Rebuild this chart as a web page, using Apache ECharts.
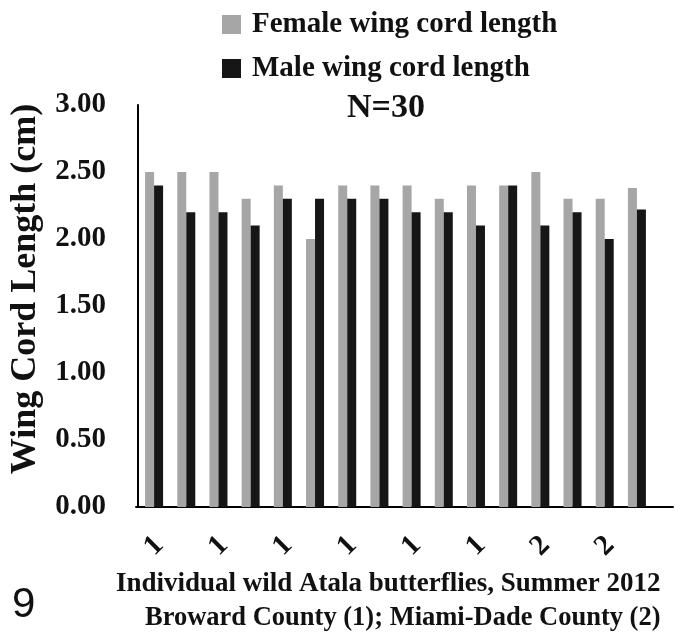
<!DOCTYPE html>
<html>
<head>
<meta charset="utf-8">
<script src="https://cdn.jsdelivr.net/npm/echarts@6/dist/echarts.min.js"></script>
<style>
html,body{margin:0;padding:0;background:#fff;}
#c{width:675px;height:636px;}
</style>
</head>
<body>
<div id="c"></div>
<script>
// categories: county code of each individual (1 = Broward, 2 = Miami-Dade)
var categories = ['1','1','1','1','1','1','1','1','1','1','1','1','2','2','2','2'];
var femaleValues = [2.50,2.50,2.50,2.30,2.40,2.00,2.40,2.40,2.40,2.30,2.40,2.40,2.50,2.30,2.30,2.38];
var maleValues   = [2.40,2.20,2.20,2.10,2.30,2.30,2.30,2.30,2.20,2.20,2.10,2.40,2.10,2.20,2.00,2.22];
var yTicks = { min: 0, max: 3, interval: 0.5 };
var seriesNames = ['Female wing cord length', 'Male wing cord length'];

var serif = "'Liberation Serif', 'Times New Roman', serif";
var chart = echarts.init(document.getElementById('c'), null, {renderer: 'canvas'});
chart.setOption({
  animation: false,
  backgroundColor: '#fff',
  title: [
    { text: 'N=30', left: 342, top: 86,
      textStyle: { fontFamily: serif, fontWeight: 'bold', fontSize: 34, color: '#111' } },
    { text: 'Individual wild Atala butterflies, Summer 2012', left: 111, top: 566,
      textStyle: { fontFamily: serif, fontWeight: 'bold', fontSize: 27, color: '#111' } },
    { text: 'Broward County (1); Miami-Dade County (2)', left: 140, top: 600,
      textStyle: { fontFamily: serif, fontWeight: 'bold', fontSize: 26.5, color: '#111' } },
    { text: '9', left: 7, top: 579,
      textStyle: { fontFamily: "'Liberation Sans', Arial, sans-serif", fontWeight: 'normal', fontSize: 42, color: '#111' } }
  ],
  legend: {
    orient: 'vertical', left: 217, top: 5, itemGap: 15,
    itemWidth: 19, itemHeight: 19, icon: 'rect',
    data: seriesNames,
    textStyle: { fontFamily: serif, fontWeight: 'bold', fontSize: 29, color: '#111', padding: [0,0,0,6] }
  },
  grid: [
    { left: 136, right: 22, top: 105, bottom: 129 },
    { left: 136, right: 2, top: 105, bottom: 129 }
  ],
  xAxis: [
    { type: 'category', data: categories, gridIndex: 0,
      axisLine: { show: true, lineStyle: { color: '#000', width: 2 } },
      axisTick: { show: false },
      axisLabel: { interval: 1, rotate: 45, align: 'center', verticalAlign: 'middle', margin: 39,
        fontFamily: serif, fontWeight: 'bold', fontSize: 29, color: '#111' } },
    { type: 'value', gridIndex: 1, min: 0, max: 1,
      axisLine: { show: true, lineStyle: { color: '#000', width: 2 } },
      axisTick: { show: false }, axisLabel: { show: false }, splitLine: { show: false } }
  ],
  yAxis: [
    { type: 'value', gridIndex: 0, min: yTicks.min, max: yTicks.max, interval: yTicks.interval,
      name: 'Wing Cord Length (cm)', nameLocation: 'middle', nameGap: 94, nameRotate: 90,
      nameTextStyle: { fontFamily: serif, fontWeight: 'bold', fontSize: 36, color: '#111', padding: [0,0,0,34] },
      axisLine: { show: true, lineStyle: { color: '#000', width: 2 } },
      axisTick: { show: false },
      splitLine: { show: false },
      axisLabel: { margin: 32, fontFamily: serif, fontWeight: 'bold', fontSize: 29, color: '#111',
        formatter: function (v) { return v.toFixed(2); } } },
    { type: 'value', gridIndex: 1, min: 0, max: 1, show: false }
  ],
  series: [
    { name: seriesNames[0], type: 'bar', data: femaleValues, xAxisIndex: 0, yAxisIndex: 0,
      barWidth: 9, barGap: '0%', itemStyle: { color: '#a6a6a6' } },
    { name: seriesNames[1], type: 'bar', data: maleValues, xAxisIndex: 0, yAxisIndex: 0,
      barWidth: 9, barGap: '0%', itemStyle: { color: '#161616' } }
  ]
});
</script>
</body>
</html>
